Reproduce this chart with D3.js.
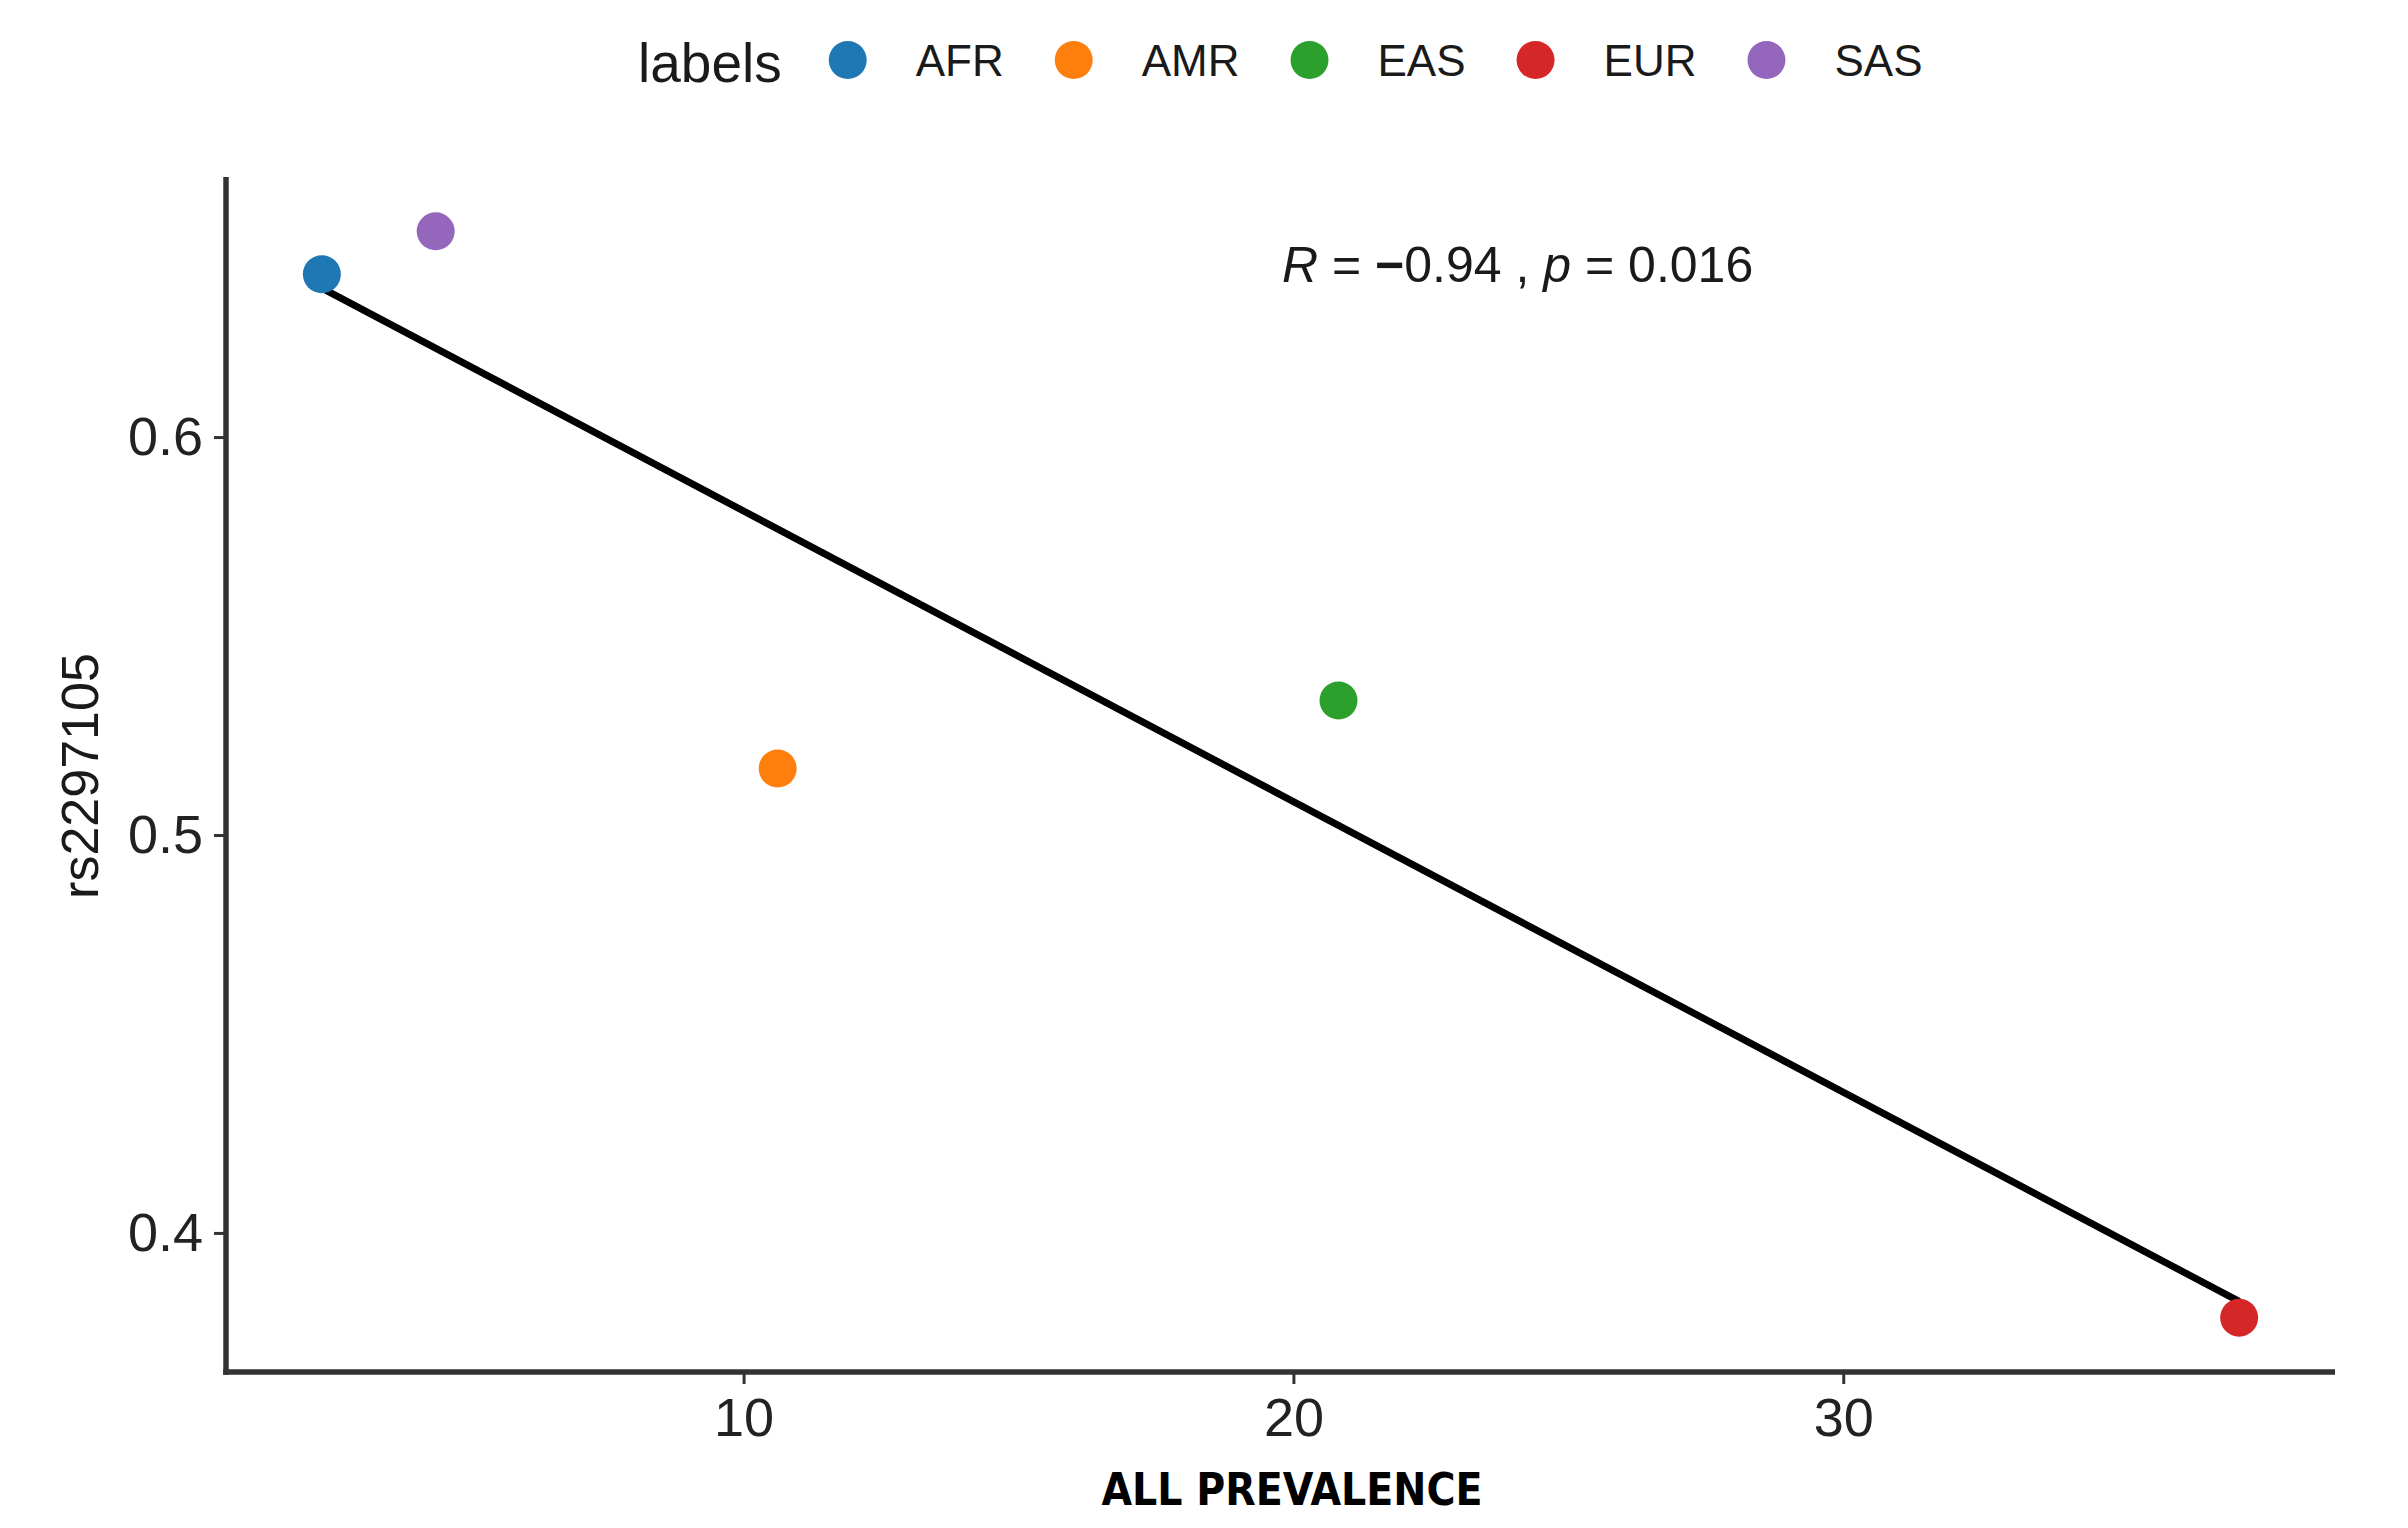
<!DOCTYPE html>
<html>
<head>
<meta charset="utf-8">
<script src="https://cdn.jsdelivr.net/npm/d3@7"></script>
<style>
  body { margin: 0; background: #fff; }
  svg { display: block; font-family: "Liberation Sans", Arial, sans-serif; }
</style>
</head>
<body>
<div id="chart"></div>
<script>
const width = 2408, height = 1528;

// data
const labels = ['AFR', 'AMR', 'EAS', 'EUR', 'SAS'];
const prevalence = [2.33, 10.62, 20.82, 37.2, 4.40];
const rs2297105 = [0.6409, 0.5167, 0.5338, 0.3787, 0.6517];
const colors = ['#1f77b4', '#ff7f0e', '#2ca02c', '#d62728', '#9467bd'];
const xTicks = [10, 20, 30];
const yTicks = [0.4, 0.5, 0.6];
const statLabel = {R: '−0.94', p: '0.016'};

const data = labels.map((l, i) => ({label: l, x: prevalence[i], y: rs2297105[i]}));

const svg = d3.select('#chart').append('svg')
    .attr('width', width)
    .attr('height', height);

// ggplot style 5% expansion
function expand(ext) {
    const pad = (ext[1] - ext[0]) * 0.05;
    return [ext[0] - pad, ext[1] + pad];
}

const x = d3.scaleLinear()
    .domain(expand(d3.extent(data, d => d.x)))
    .range([226, 2335]);

const y = d3.scaleLinear()
    .domain(expand(d3.extent(data, d => d.y)))
    .range([1372, 177]);

const color = d3.scaleOrdinal().domain(labels).range(colors);

// axes
const xAxis = svg.append('g')
    .attr('transform', `translate(0,${y.range()[0]})`)
    .call(d3.axisBottom(x).tickValues(xTicks).tickSize(12).tickPadding(14).tickSizeOuter(0));

const yAxis = svg.append('g')
    .attr('transform', `translate(${x.range()[0]},0)`)
    .call(d3.axisLeft(y).tickValues(yTicks).tickSize(12).tickPadding(11).tickSizeOuter(0).tickFormat(d3.format('.1f')));

[xAxis, yAxis].forEach(g => {
    g.select('.domain').attr('stroke', '#333').attr('stroke-width', 5.5);
    g.selectAll('.tick line').attr('stroke', '#333').attr('stroke-width', 3);
    g.selectAll('.tick text')
        .attr('fill', '#222')
        .attr('font-size', 54)
        .attr('font-family', '"Liberation Sans", Arial, sans-serif');
});
// ggplot draws axis lines to the panel edges
xAxis.select('.domain').attr('d', `M${x.range()[0] - 2.75},0H${x.range()[1]}`);
yAxis.select('.domain').attr('d', `M0,${y.range()[1]}V${y.range()[0] + 2.75}`);

// axis titles
svg.append('text')
    .attr('x', 1292)
    .attr('y', 1505)
    .attr('text-anchor', 'middle')
    .attr('font-family', '"DejaVu Sans Condensed", "DejaVu Sans", sans-serif')
    .attr('font-stretch', 'condensed')
    .attr('font-weight', 'bold')
    .attr('font-size', 44)
    .attr('fill', '#000')
    .text('ALL PREVALENCE');

svg.append('text')
    .attr('transform', 'translate(98,776) rotate(-90)')
    .attr('text-anchor', 'middle')
    .attr('font-size', 52)
    .attr('fill', '#1a1a1a')
    .text('rs2297105');

// regression line (least squares)
const mx = d3.mean(data, d => d.x), my = d3.mean(data, d => d.y);
const slope = d3.sum(data, d => (d.x - mx) * (d.y - my)) / d3.sum(data, d => (d.x - mx) ** 2);
const intercept = my - slope * mx;
const xs = d3.extent(data, d => d.x);

svg.append('path')
    .datum(xs)
    .attr('fill', 'none')
    .attr('stroke', '#000')
    .attr('stroke-width', 7)
    .attr('d', d3.line().x(d => x(d)).y(d => y(slope * d + intercept)));

// points
svg.append('g')
    .selectAll('circle')
    .data(data)
    .enter().append('circle')
    .attr('cx', d => x(d.x))
    .attr('cy', d => y(d.y))
    .attr('r', 19)
    .attr('fill', d => color(d.label));

// correlation label
const stat = svg.append('text')
    .attr('x', 1282)
    .attr('y', 282)
    .attr('font-size', 50)
    .attr('fill', '#1a1a1a')
    .attr('xml:space', 'preserve');
stat.append('tspan').attr('font-style', 'italic').text('R');
stat.append('tspan').text(' = ');
stat.append('tspan').attr('font-weight', 'bold').text(statLabel.R.slice(0, 1));
stat.append('tspan').text(`${statLabel.R.slice(1)} , `);
stat.append('tspan').attr('font-style', 'italic').text('p');
stat.append('tspan').text(` = ${statLabel.p}`);

// legend on top
const legend = svg.append('g');
const title = legend.append('text')
    .attr('x', 638)
    .attr('y', 82)
    .attr('font-size', 55)
    .attr('fill', '#1a1a1a')
    .text('labels');

let lx = 638 + title.node().getComputedTextLength() + 66;
labels.forEach(l => {
    legend.append('circle')
        .attr('cx', lx)
        .attr('cy', 60)
        .attr('r', 19)
        .attr('fill', color(l));
    const t = legend.append('text')
        .attr('x', lx + 68)
        .attr('y', 76)
        .attr('font-size', 44)
        .attr('fill', '#1a1a1a')
        .text(l);
    lx += 68 + t.node().getComputedTextLength() + 70;
});
</script>
</body>
</html>
